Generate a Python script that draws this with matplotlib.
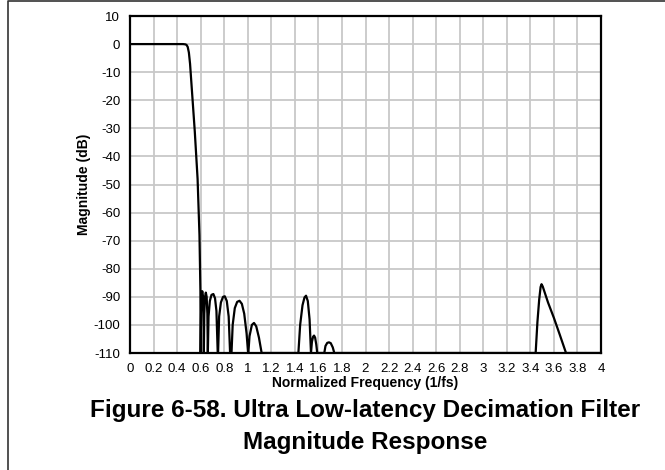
#! /usr/bin/env python3

import matplotlib
matplotlib.use("Agg")
import matplotlib.pyplot as plt
from matplotlib.lines import Line2D

plt.rcParams['font.family'] = ['Liberation Sans', 'DejaVu Sans']
plt.rcParams['axes.unicode_minus'] = False

# frequency (1/fs) and magnitude (dB)
freq = [0.0, 0.1, 0.2, 0.3, 0.4, 0.45, 0.47, 0.48,
        0.49, 0.50, 0.51, 0.53, 0.55, 0.574, 0.59, 0.598, 0.600,
        # stopband lobes near 0.6 - 1.1
        0.604, 0.609, 0.614, 0.619, 0.624, 0.627,
        0.631, 0.637, 0.644, 0.651, 0.657, 0.661,
        0.667, 0.678, 0.692, 0.708, 0.722, 0.734, 0.745,
        0.748, 0.757, 0.772, 0.790, 0.805, 0.822, 0.838, 0.850,
        0.862, 0.872, 0.890, 0.910, 0.930, 0.950, 0.970, 0.990, 1.003,
        1.005, 1.015, 1.035, 1.053, 1.072, 1.095, 1.118,
        # lobes near 1.5
        1.430, 1.445, 1.465, 1.482, 1.495, 1.510, 1.525, 1.537,
        1.545, 1.555, 1.563, 1.572, 1.582, 1.590,
        1.650, 1.660, 1.675, 1.690, 1.705, 1.722, 1.735,
        # image lobe near 3.5
        3.445, 3.460, 3.475, 3.487, 3.495, 3.505, 3.550, 3.600, 3.650, 3.703,
        4.0]
mag = [0, 0, 0, 0, 0, 0, -0.1, -0.3,
       -1, -3, -7, -19, -31, -48, -68, -88, -110,
       -95, -89, -88, -89.5, -96, -110,
       -96, -90, -88.5, -90, -96, -110,
       -97, -91.5, -89.3, -89, -90.5, -95, -110,
       -110, -97, -92, -90, -89.8, -91.5, -97, -110,
       -110, -100, -94, -91.8, -91.4, -92.5, -96, -103, -110,
       -110, -104, -100, -99.3, -100.5, -104.5, -110,
       -110, -100, -93, -90.2, -89.6, -91.5, -98, -110,
       -106, -104.2, -103.8, -104.5, -107, -110,
       -110, -107.5, -106.4, -106.2, -106.5, -108, -110,
       -110, -99, -91, -86.5, -85.5, -86.3, -92, -97.5, -103.5, -110,
       -110]

xticks = [0, 0.2, 0.4, 0.6, 0.8, 1, 1.2, 1.4, 1.6, 1.8, 2,
          2.2, 2.4, 2.6, 2.8, 3, 3.2, 3.4, 3.6, 3.8, 4]
xlabels = ['0', '0.2', '0.4', '0.6', '0.8', '1', '1.2', '1.4', '1.6', '1.8', '2',
           '2.2', '2.4', '2.6', '2.8', '3', '3.2', '3.4', '3.6', '3.8', '4']
yticks = [10, 0, -10, -20, -30, -40, -50, -60, -70, -80, -90, -100, -110]


fig = plt.figure(figsize=(6.65, 4.7), dpi=100)
ax = fig.add_axes([130 / 665, 1 - 353 / 470, 471 / 665, 337 / 470])

ax.plot(freq, mag, color='black', lw=1.6, solid_joinstyle='round')

ax.set_xlim(0, 4)
ax.set_ylim(-110, 10)
ax.set_xticks(xticks)
ax.set_xticklabels(xlabels)
ax.set_yticks(yticks)
ax.tick_params(length=0, labelsize=9.5, pad=7)
ax.grid(True, color='#c8c8c8', lw=1.3)
ax.set_axisbelow(True)
for s in ax.spines.values():
    s.set_linewidth(1.6)
    s.set_color('black')

ax.set_xlabel('Normalized Frequency (1/fs)', fontsize=10, fontweight='bold', labelpad=1)
ax.set_ylabel('Magnitude (dB)', fontsize=10, fontweight='bold', labelpad=2)

fig.text(365 / 665, 1 - 410 / 470, 'Figure 6-58. Ultra Low-latency Decimation Filter',
         ha='center', va='center', fontsize=17.5, fontweight='bold')
fig.text(365 / 665, 1 - 442 / 470, 'Magnitude Response',
         ha='center', va='center', fontsize=17.5, fontweight='bold')

# page frame (left and top edge)
fig.add_artist(Line2D([7.5 / 665, 7.5 / 665, 1], [0, 1 - 0.5 / 470, 1 - 0.5 / 470],
                      transform=fig.transFigure, color='#333333', lw=1.2))

fig.savefig('out.png', dpi=100)
